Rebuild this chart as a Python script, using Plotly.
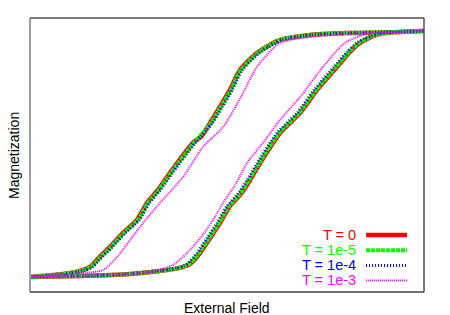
import plotly.graph_objects as go

# ---- data: hysteresis branches (field H, magnetization M) ----
labels = ["T = 0", "T = 1e-5", "T = 1e-4", "T = 1e-3"]
colors = ["#ff0000", "#00ff00", "#0000ff", "#ff00ff"]

# descending-field branch (right -> left)
H_up_T0 = [1.0, 0.878, 0.624, 0.421, 0.269, 0.152, 0.066, 0.015, -0.036, -0.086, -0.130, -0.173, -0.289, -0.350, -0.406, -0.457, -0.528, -0.594, -0.660, -0.695, -0.746, -0.832, -1.0]
M_up_T0 = [1.016, 1.008, 1.0, 0.984, 0.942, 0.835, 0.695, 0.531, 0.391, 0.259, 0.150, 0.095, -0.152, -0.292, -0.399, -0.539, -0.646, -0.761, -0.868, -0.926, -0.959, -0.984, -1.008]
# ascending-field branch (left -> right)
H_lo_T0 = [-1.0, -0.746, -0.492, -0.340, -0.239, -0.188, -0.137, -0.086, -0.036, 0.015, 0.066, 0.117, 0.168, 0.269, 0.371, 0.457, 0.558, 0.624, 0.675, 0.711, 0.777, 0.878, 1.0]
M_lo_T0 = [-1.008, -1.0, -0.984, -0.959, -0.934, -0.901, -0.811, -0.687, -0.564, -0.424, -0.333, -0.210, -0.070, 0.177, 0.342, 0.531, 0.720, 0.844, 0.918, 0.951, 0.992, 1.008, 1.016]

H_up_T1 = [1.0, 0.878, 0.624, 0.421, 0.269, 0.157, 0.071, 0.020, -0.031, -0.081, -0.168, -0.284, -0.345, -0.401, -0.452, -0.523, -0.589, -0.655, -0.690, -0.741, -0.827, -1.0]
M_up_T1 = [1.016, 1.008, 1.0, 0.984, 0.942, 0.835, 0.695, 0.531, 0.391, 0.259, 0.095, -0.152, -0.292, -0.399, -0.539, -0.646, -0.761, -0.868, -0.926, -0.959, -0.984, -1.008]
H_lo_T1 = [-1.0, -0.746, -0.492, -0.345, -0.244, -0.193, -0.142, -0.091, -0.041, 0.010, 0.061, 0.112, 0.163, 0.264, 0.366, 0.452, 0.553, 0.619, 0.670, 0.706, 0.772, 0.878, 1.0]
M_lo_T1 = [-1.008, -1.0, -0.984, -0.959, -0.934, -0.901, -0.811, -0.687, -0.564, -0.424, -0.333, -0.210, -0.070, 0.177, 0.342, 0.531, 0.720, 0.844, 0.918, 0.951, 0.992, 1.008, 1.016]

H_up_T2 = [1.0, 0.878, 0.630, 0.430, 0.280, 0.164, 0.078, 0.027, -0.024, -0.074, -0.161, -0.277, -0.338, -0.394, -0.445, -0.516, -0.582, -0.648, -0.683, -0.734, -0.820, -1.0]
M_up_T2 = [1.016, 1.008, 1.0, 0.984, 0.942, 0.835, 0.695, 0.531, 0.391, 0.259, 0.095, -0.152, -0.292, -0.399, -0.539, -0.646, -0.761, -0.868, -0.926, -0.959, -0.984, -1.008]
H_lo_T2 = [-1.0, -0.746, -0.500, -0.355, -0.254, -0.203, -0.152, -0.101, -0.051, 0.000, 0.051, 0.102, 0.153, 0.254, 0.356, 0.442, 0.543, 0.609, 0.660, 0.696, 0.765, 0.870, 1.0]
M_lo_T2 = [-1.008, -1.0, -0.984, -0.959, -0.934, -0.901, -0.811, -0.687, -0.564, -0.424, -0.333, -0.210, -0.070, 0.177, 0.342, 0.531, 0.720, 0.844, 0.918, 0.951, 0.992, 1.008, 1.016]

H_up_T3 = [1.0, 0.624, 0.421, 0.269, 0.152, 0.076, -0.020, -0.122, -0.223, -0.340, -0.426, -0.492, -0.558, -0.629, -0.731, -1.0]
M_up_T3 = [1.016, 0.992, 0.967, 0.918, 0.720, 0.490, 0.226, 0.062, -0.185, -0.399, -0.564, -0.704, -0.844, -0.951, -0.975, -1.008]
H_lo_T3 = [-1.0, -0.645, -0.391, -0.274, -0.188, -0.112, -0.071, -0.020, 0.041, 0.102, 0.193, 0.269, 0.371, 0.487, 0.599, 0.711, 0.878, 1.0]
M_lo_T3 = [-1.008, -0.992, -0.967, -0.909, -0.786, -0.638, -0.539, -0.399, -0.251, -0.070, 0.119, 0.284, 0.473, 0.720, 0.918, 0.992, 1.008, 1.016]

series = [
    (H_up_T0 + H_lo_T0, M_up_T0 + M_lo_T0),
    (H_up_T1 + H_lo_T1, M_up_T1 + M_lo_T1),
    (H_up_T2 + H_lo_T2, M_up_T2 + M_lo_T2),
    (H_up_T3 + H_lo_T3, M_up_T3 + M_lo_T3),
]
widths = [4.5, 4, 3, 2]
dashes = ["solid", "4px,1px", "1px,2px", "1px,1px"]

FONT = "Liberation Sans, Arial, Helvetica, sans-serif"

fig = go.Figure()
for (hx, my), lab, col, w, d in zip(series, labels, colors, widths, dashes):
    fig.add_trace(go.Scatter(x=hx, y=my, mode="lines", name=lab,
                             line=dict(color=col, width=w, dash=d,
                                       shape="spline", smoothing=0.7),
                             showlegend=False, hoverinfo="skip"))

# manual legend (text right-aligned, sample on the right)
shapes = []
annotations = []
row_y = [0.208, 0.152, 0.097, 0.042]
for lab, col, w, d, yy in zip(labels, colors, widths, dashes, row_y):
    annotations.append(dict(text=lab, x=0.832, y=yy, xref="paper", yref="paper",
                            xanchor="right", yanchor="middle", showarrow=False,
                            font=dict(family=FONT, size=14.5, color=col)))
    shapes.append(dict(type="line", xref="paper", yref="paper",
                       x0=0.853, x1=0.957, y0=yy, y1=yy,
                       line=dict(color=col, width=w, dash=d)))

# frame
shapes += [
    dict(type="line", xref="paper", yref="paper", x0=0, x1=0, y0=0, y1=1,
         line=dict(color="#a0a0a0", width=2)),
    dict(type="line", xref="paper", yref="paper", x0=0, x1=1, y0=1, y1=1,
         line=dict(color="#505050", width=1.5)),
    dict(type="line", xref="paper", yref="paper", x0=0, x1=1, y0=0, y1=0,
         line=dict(color="#404040", width=1.5)),
    dict(type="line", xref="paper", yref="paper", x0=1, x1=1, y0=0, y1=1,
         line=dict(color="#505050", width=1.5)),
]

annotations += [
    dict(text="External Field", x=0.5, y=0, xref="paper", yref="paper",
         xanchor="center", yanchor="top", yshift=-6, showarrow=False,
         font=dict(family=FONT, size=14, color="#000000")),
    dict(text="Magnetization", x=0, y=0.5, xref="paper", yref="paper",
         xanchor="right", yanchor="middle", xshift=-6, textangle=-90,
         showarrow=False, font=dict(family=FONT, size=14, color="#000000")),
]

fig.update_layout(
    width=450, height=315,
    margin=dict(l=30, r=26, t=18, b=23),
    paper_bgcolor="white", plot_bgcolor="white",
    xaxis=dict(range=[-1.0, 1.0], showgrid=False, zeroline=False,
               showticklabels=False, ticks="", showline=False),
    yaxis=dict(range=[-1.132, 1.123], showgrid=False, zeroline=False,
               showticklabels=False, ticks="", showline=False),
    shapes=shapes, annotations=annotations,
)

fig.write_html("out.html", config={"displayModeBar": False},
               post_script="document.body.style.margin='0';document.body.style.overflow='hidden';")
